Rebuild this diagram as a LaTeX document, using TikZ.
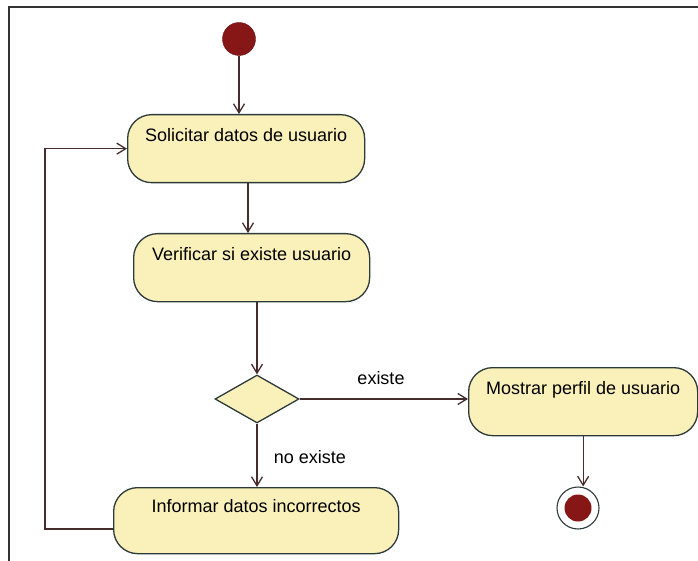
\documentclass[tikz,border=0pt]{standalone}
\usepackage{fontspec}
\setmainfont{Liberation Sans}
\usetikzlibrary{arrows.meta,shapes.geometric,calc}
\definecolor{edgecol}{RGB}{70,45,45}
\definecolor{bordercol}{RGB}{45,58,58}
\definecolor{actfill}{RGB}{250,241,186}
\definecolor{dotred}{RGB}{135,22,22}
\definecolor{framecol}{RGB}{50,50,50}
\tikzset{
  act/.style={draw=bordercol, fill=actfill, line width=1.3pt, rectangle,
    rounded corners=24pt, inner xsep=0pt, inner ysep=0pt,
    text height=27pt, text depth=41pt, font=\fontsize{18}{20}\selectfont},
  decis/.style={draw=bordercol, fill=actfill, line width=1.3pt, diamond,
    minimum width=84pt, minimum height=48pt, inner sep=0pt},
  edge/.style={draw=edgecol, line width=1.3pt, -{Straight Barb[length=9pt,width=11pt]}},
  lbl/.style={font=\fontsize{18}{20}\selectfont, inner sep=0pt},
}
\begin{document}
\begin{tikzpicture}[x=1pt,y=-1pt]
\useasboundingbox (0,0) rectangle (698,561);
\draw[framecol, line width=2.5pt] (9,561) -- (9,7) -- (698,7);

\node[circle, fill=dotred, draw=dotred!70!black, minimum size=33pt, inner sep=0pt] (start) at (239,39) {};
\node[act, minimum width=237pt, minimum height=68pt, anchor=north west] (sol) at (127,114) {Solicitar datos de usuario};
\node[act, minimum width=236pt, minimum height=68pt, anchor=north west] (ver) at (133,233) {Verificar si existe usuario};
\node[decis] (dia) at (257,399) {};
\node[act, minimum width=285pt, minimum height=66pt, text height=25pt, anchor=north west] (inf) at (113,487) {Informar datos incorrectos};
\node[act, minimum width=229pt, minimum height=68pt, text height=26pt, anchor=north west] (mos) at (468,367) {Mostrar perfil de usuario};
\node[circle, draw=bordercol, fill=white, line width=1.1pt, minimum size=42pt, inner sep=0pt] (fin) at (578,508) {};
\node[circle, fill=dotred, minimum size=27pt, inner sep=0pt] (findot) at (fin) {};

\coordinate (a1) at (248,0);
\coordinate (lp) at (45,529);

\draw[edge] (start) -- (start |- sol.north);
\draw[edge] (sol.south -| a1) -- (ver.north -| a1);
\draw[edge] (ver.south -| dia.north) -- (dia.north);
\draw[edge] (dia.south) -- (dia.south |- inf.north);
\draw[edge] (dia.east) -- (dia.east -| mos.west);
\draw[edge] (mos.south) -- (mos.south |- fin.north);
\draw[edge] (inf.west |- lp) -- (lp) |- (sol.west);

\node[lbl] (lex) at (381,378) {existe};
\node[lbl] (lnex) at (310,457) {no existe};
\end{tikzpicture}
\end{document}
